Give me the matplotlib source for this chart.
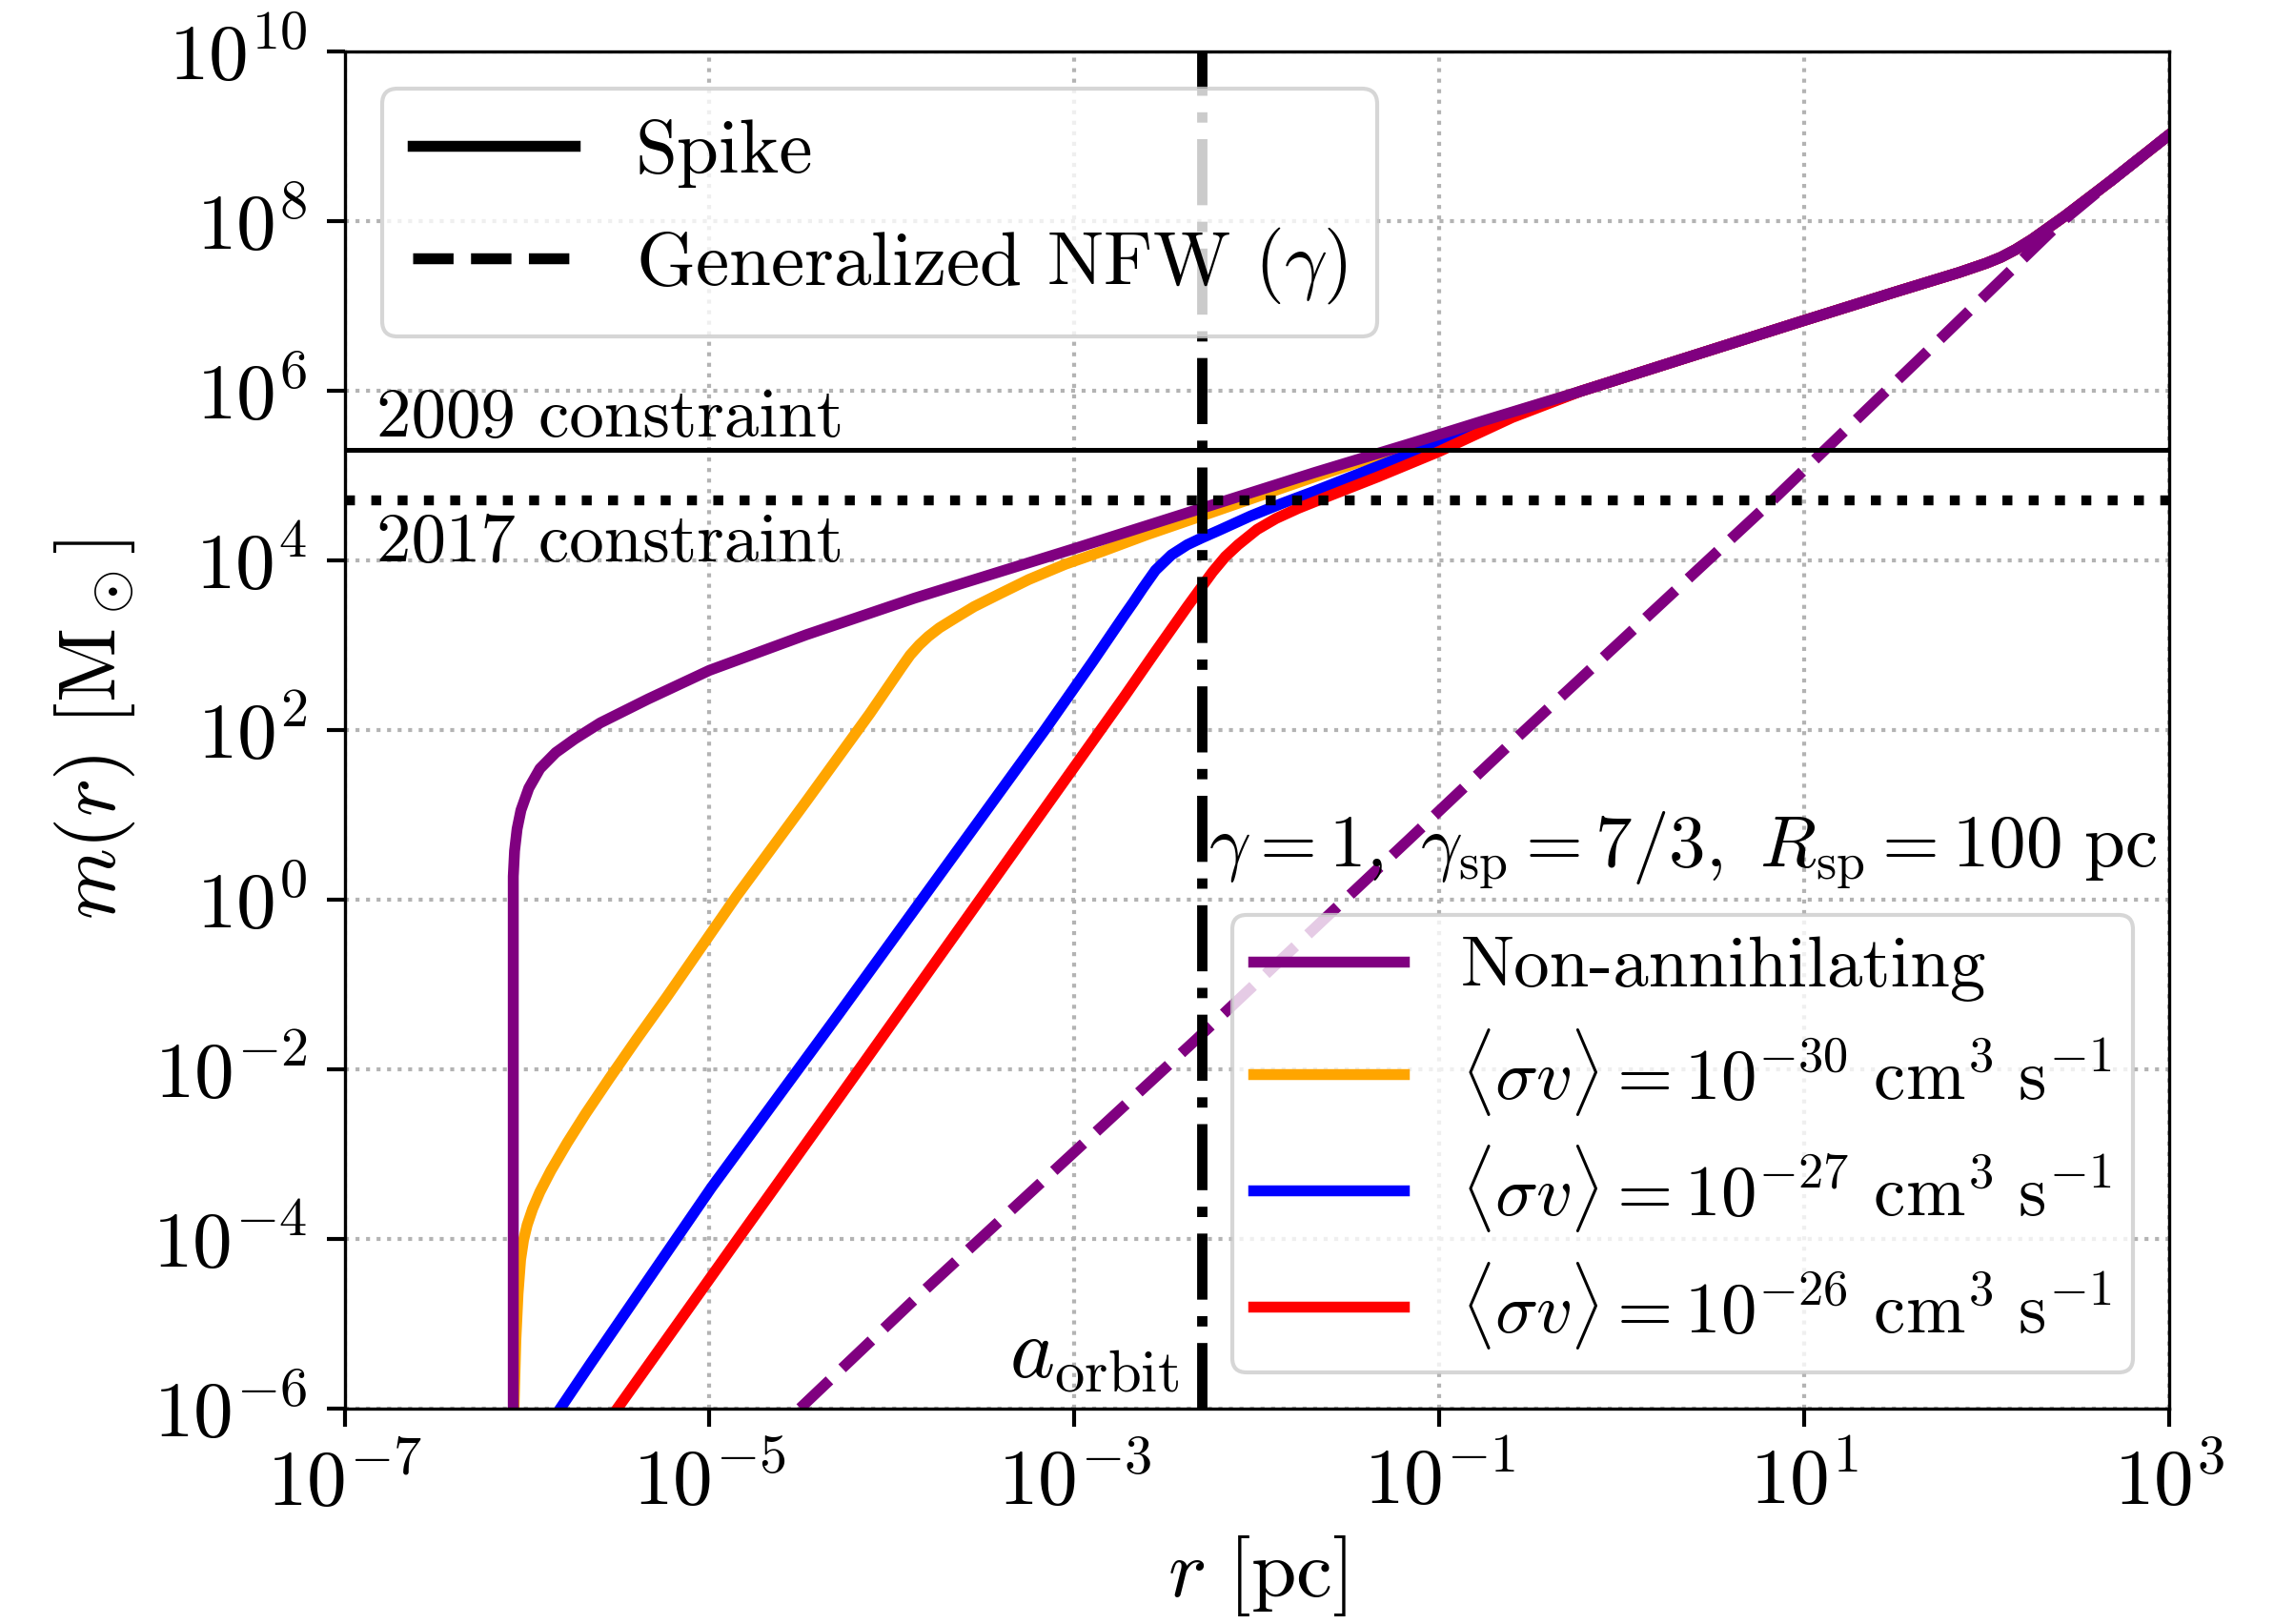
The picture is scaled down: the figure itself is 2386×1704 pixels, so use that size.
import numpy as np
import matplotlib
matplotlib.use('Agg')
import matplotlib.pyplot as plt
from matplotlib.lines import Line2D
from matplotlib.ticker import NullLocator

plt.rcParams['font.family'] = 'serif'
plt.rcParams['font.serif'] = ['cmr10']
plt.rcParams['mathtext.fontset'] = 'cm'
plt.rcParams['axes.formatter.use_mathtext'] = True

# values, as log10(r / pc) and log10(m / Msun)
# all curves run together beyond r ~ 0.5 pc
tail_logr = [-0.224, 0.994, 1.50, 1.85, 2.00, 2.08, 2.16, 2.25, 2.433, 2.689, 3.000]
tail_logm = [5.99, 6.82, 7.16, 7.39, 7.50, 7.57, 7.66, 7.78, 8.06, 8.48, 9.01]

purple_logr = [-6.076, -6.076, -6.069, -6.055, -6.034, -5.991, -5.930, -5.843, -5.739,
               -5.599, -5.338, -5.000, -4.468, -3.877, -3.007, -2.302, -1.685, -1.163,
               -0.745] + tail_logr
purple_logm = [-6.00, 0.27, 0.57, 0.83, 1.05, 1.31, 1.54, 1.73, 1.89,
               2.08, 2.36, 2.70, 3.12, 3.55, 4.13, 4.61, 5.03, 5.37,
               5.65] + tail_logm

orange_logr = [-6.072, -6.062, -6.050, -6.036, -6.020, -6.000, -5.970, -5.930, -5.870,
               -5.780, -5.680, -5.550, -5.400, -5.234, -4.851, -4.468, -4.121, -3.946,
               -3.900, -3.850, -3.800, -3.740, -3.650, -3.550, -3.420, -3.250, -3.050,
               -2.850, -2.600, -2.302, -1.685, -1.163, -0.745] + tail_logr
orange_logm = [-6.00, -5.20, -4.65, -4.25, -4.02, -3.84, -3.65, -3.45, -3.20,
               -2.87, -2.53, -2.115, -1.65, -1.15, 0.04, 1.16, 2.19, 2.74,
               2.88, 3.00, 3.10, 3.20, 3.32, 3.45, 3.59, 3.77, 3.95,
               4.10, 4.30, 4.52, 4.98, 5.35, 5.64] + tail_logm

blue_logr = [-5.817, -5.651, -4.990, -4.294, -3.164, -2.900, -2.729, -2.677, -2.624,
             -2.555, -2.468, -2.381, -2.302, -2.207, -2.033, -1.859, -1.685, -1.163,
             -0.745] + tail_logr
blue_logm = [-6.00, -5.47, -3.40, -1.36, 1.99, 2.80, 3.34, 3.50, 3.67,
             3.88, 4.06, 4.18, 4.26, 4.35, 4.52, 4.67, 4.81, 5.25,
             5.59] + tail_logm

red_logr = [-5.504, -4.816, -4.294, -3.877, -3.007, -2.729, -2.555, -2.381, -2.242,
            -2.172, -2.102, -1.998, -1.894, -1.772, -1.598, -1.337, -1.000, -0.600] + tail_logr
red_logm = [-6.00, -3.92, -2.35, -1.09, 1.54, 2.38, 2.92, 3.45, 3.86,
            4.04, 4.18, 4.36, 4.49, 4.61, 4.76, 4.98, 5.28, 5.68] + tail_logm

nfw_logr = [-4.503, -3.877, -2.328, -1.163, -0.589, 0.821, 1.725, 2.104, 2.397, 2.689, 3.000]
nfw_logm = [-6.00, -4.72, -1.645, 0.71, 1.875, 4.69, 6.56, 7.35, 7.96, 8.48, 9.01]

m_2009 = 2.0e5
m_2017 = 5.0e4
a_orbit = 5.0e-3

labels = ['Non-annihilating',
          r'$\langle \sigma v \rangle = 10^{-30}\ {\rm cm}^3\ {\rm s}^{-1}$',
          r'$\langle \sigma v \rangle = 10^{-27}\ {\rm cm}^3\ {\rm s}^{-1}$',
          r'$\langle \sigma v \rangle = 10^{-26}\ {\rm cm}^3\ {\rm s}^{-1}$']

fig = plt.figure(figsize=(2386 / 300, 1704 / 300), dpi=300)
ax = fig.add_axes([0.1516, 0.1329, 0.8021, 0.8356])

lw = 2.75
l_or, = ax.plot(10.0**np.array(orange_logr), 10.0**np.array(orange_logm), color='orange', lw=lw, label=labels[1])
l_bl, = ax.plot(10.0**np.array(blue_logr), 10.0**np.array(blue_logm), color='blue', lw=lw, label=labels[2])
l_rd, = ax.plot(10.0**np.array(red_logr), 10.0**np.array(red_logm), color='red', lw=lw, label=labels[3])
l_pu, = ax.plot(10.0**np.array(purple_logr), 10.0**np.array(purple_logm), color='purple', lw=lw, label=labels[0])
ax.plot(10.0**np.array(nfw_logr), 10.0**np.array(nfw_logm), color='purple', lw=lw, ls='--')

ax.axhline(m_2009, color='k', lw=1.2)
ax.axhline(m_2017, color='k', lw=2.5, ls=':')
ax.axvline(a_orbit, color='k', lw=2.6, ls='-.')

ax.text(1.5e-7, 10**5.46, '2009 constraint', fontsize=17.5)
ax.text(1.5e-7, 10**3.98, '2017 constraint', fontsize=17.5)
ax.text(a_orbit / 1.33, 10**-5.64, r'$a_{\rm orbit}$', ha='right', fontsize=21.5)
ax.text(0.7338, 0.3993, r'$\gamma = 1,\ \gamma_{\rm sp} = 7/3,\ R_{\rm sp} = 100\ {\rm pc}$',
        transform=ax.transAxes, ha='center', fontsize=18.5)

ax.set_xscale('log')
ax.set_yscale('log')
ax.set_xlim(1e-7, 1e3)
ax.set_ylim(1e-6, 1e10)
ax.set_xticks(10.0**np.arange(-7, 4, 2))
ax.set_yticks(10.0**np.arange(-6, 11, 2))
ax.xaxis.set_minor_locator(NullLocator())
ax.yaxis.set_minor_locator(NullLocator())
ax.grid(True, which='major', ls=':', color='0.7', lw=1.0)
ax.tick_params(labelsize=20, length=4.5, width=1, pad=5)

ax.set_xlabel(r'$r\ [{\rm pc}]$', fontsize=20.5, labelpad=3)
ax.set_ylabel(r'$m(r)\ [{\rm M}_\odot]$', fontsize=20.5)

leg1 = ax.legend(handles=[Line2D([], [], color='k', lw=lw), Line2D([], [], color='k', lw=lw, ls='--')],
                 labels=['Spike', r'Generalized NFW ($\gamma$)'],
                 loc='upper left', fontsize=19, handlelength=2.15)
ax.add_artist(leg1)
ax.legend(handles=[l_pu, l_or, l_bl, l_rd], loc='lower right', fontsize=18,
          handlelength=2.1, labelspacing=0.35, borderpad=0.3)

fig.savefig('out.png', dpi=300)
